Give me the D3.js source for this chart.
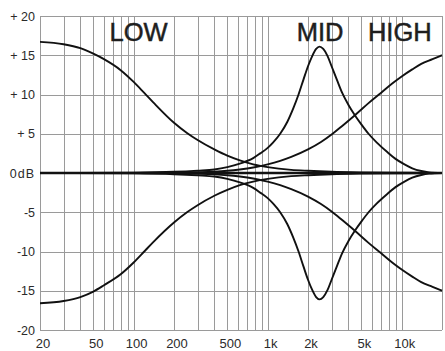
<!DOCTYPE html>
<html>
<head>
<meta charset="utf-8">
<script src="https://cdn.jsdelivr.net/npm/d3@7"></script>
<style>
  html, body { margin: 0; padding: 0; background: #fff; }
  svg { display: block; }
  text { font-family: "Liberation Sans", Arial, sans-serif; }
</style>
</head>
<body>
<svg id="chart" width="445" height="351"></svg>
<script>
// ---- data ----
const lowFreqs  = [20, 30, 40, 50, 60, 80, 100, 120, 140, 200, 250, 300, 400, 500, 620, 780, 1000, 1500, 2000, 3000, 5000, 10000, 20000];
const lowBoost  = [16.7, 16.4, 15.9, 15.2, 14.5, 13.1, 11.6, 10.2, 9.0, 6.4, 5.1, 4.2, 3.0, 2.2, 1.6, 1.1, 0.75, 0.4, 0.28, 0.16, 0.08, 0.03, 0];
const lowCut    = [-16.6, -16.3, -15.8, -15.1, -14.3, -12.9, -11.4, -10.0, -8.8, -6.3, -5.0, -4.1, -2.9, -2.15, -1.55, -1.1, -0.75, -0.4, -0.28, -0.16, -0.08, -0.03, 0];

const midFreqs  = [20, 100, 200, 300, 400, 500, 620, 780, 880, 1000, 1100, 1240, 1400, 1550, 1700, 1850, 2000, 2150, 2300, 2440, 2600, 2800, 3000, 3300, 3600, 4000, 4500, 5000, 5660, 6500, 7770, 9000, 10500, 12000, 14000, 16000, 20000];
const midBoost  = [0, 0.05, 0.15, 0.3, 0.45, 0.75, 1.2, 1.9, 2.5, 3.2, 3.9, 5.0, 6.5, 8.2, 10.0, 11.9, 13.6, 14.9, 15.8, 16.1, 15.8, 14.9, 13.6, 11.8, 10.2, 8.7, 7.3, 6.2, 5.0, 3.9, 2.7, 1.8, 1.1, 0.6, 0.25, 0.08, 0];
const midCut    = [0, -0.05, -0.15, -0.3, -0.45, -0.75, -1.2, -1.9, -2.5, -3.2, -3.9, -5.0, -6.5, -8.2, -10.0, -11.9, -13.6, -14.9, -15.8, -16.1, -15.8, -14.9, -13.6, -11.8, -10.2, -8.7, -7.3, -6.2, -5.0, -3.9, -2.7, -1.8, -1.1, -0.6, -0.25, -0.08, 0];

const highFreqs = [20, 100, 200, 300, 400, 500, 620, 780, 1000, 1240, 1500, 2000, 2500, 3000, 3600, 4500, 5660, 7000, 8500, 10000, 12000, 14000, 17000, 20000];
const highBoost = [0, 0.02, 0.05, 0.1, 0.17, 0.28, 0.45, 0.7, 1.1, 1.55, 2.05, 3.0, 3.95, 4.9, 6.0, 7.4, 8.9, 10.2, 11.4, 12.3, 13.2, 13.9, 14.5, 15.0];
const highCut   = [0, -0.02, -0.05, -0.1, -0.17, -0.28, -0.45, -0.7, -1.1, -1.55, -2.05, -3.0, -3.95, -4.9, -6.0, -7.4, -8.9, -10.2, -11.4, -12.3, -13.2, -13.9, -14.5, -15.0];

const flatFreqs = [20, 20000];
const flat      = [0, 0];

const gridFreqs = [20, 30, 40, 50, 60, 70, 80, 90, 100, 200, 300, 400, 500, 600, 700, 800, 900, 1000, 2000, 3000, 4000, 5000, 6000, 7000, 8000, 9000, 10000, 20000];
const xTickValues = [20, 50, 100, 200, 500, 1000, 2000, 5000, 10000];
const xTickLabels = ["20", "50", "100", "200", "500", "1k", "2k", "5k", "10k"];
const yTickValues = [20, 15, 10, 5, 0, -5, -10, -15, -20];
const yTickLabels = ["+ 20", "+ 15", "+ 10", "+ 5", "0dB", "-5", "-10", "-15", "-20"];
const bandNames = ["LOW", "MID", "HIGH"];
const bandFreqs = [66, 1650, 5600];   // frequency where each band name starts

// ---- chart ----
const svg = d3.select("#chart");
const x = d3.scaleLog().domain([20, 20000]).range([40, 442]);
const y = d3.scaleLinear().domain([-20, 20]).range([330, 16]);

const grid = svg.append("g").attr("stroke", "#9a9a9a").attr("stroke-width", 1);
grid.selectAll("line.v").data(gridFreqs).join("line")
  .attr("class", "v")
  .attr("x1", d => Math.round(x(d)) + 0.5).attr("x2", d => Math.round(x(d)) + 0.5)
  .attr("y1", y(20)).attr("y2", y(-20));
grid.selectAll("line.h").data(yTickValues).join("line")
  .attr("class", "h")
  .attr("x1", x(20)).attr("x2", x(20000))
  .attr("y1", d => Math.round(y(d)) + 0.5).attr("y2", d => Math.round(y(d)) + 0.5);

const series = [
  { f: lowFreqs, v: lowBoost }, { f: lowFreqs, v: lowCut },
  { f: midFreqs, v: midBoost }, { f: midFreqs, v: midCut },
  { f: highFreqs, v: highBoost }, { f: highFreqs, v: highCut }
];

const lineGen = d3.line()
  .x(d => x(d[0]))
  .y(d => y(d[1]))
  .curve(d3.curveMonotoneX);

svg.append("g").selectAll("path").data(series).join("path")
  .attr("d", s => lineGen(s.f.map((f, i) => [f, s.v[i]])))
  .attr("fill", "none")
  .attr("stroke", "#111")
  .attr("stroke-width", 1.9);

svg.append("path")
  .attr("d", lineGen(flatFreqs.map((f, i) => [f, flat[i]])))
  .attr("fill", "none")
  .attr("stroke", "#111")
  .attr("stroke-width", 2.6);

// y labels
svg.append("g").selectAll("text").data(yTickValues).join("text")
  .attr("x", 35)
  .attr("y", d => y(d))
  .attr("dy", "0.36em")
  .attr("text-anchor", "end")
  .attr("font-size", 12.5)
  .attr("fill", "#2a2a2a")
  .attr("letter-spacing", (d, i) => yTickLabels[i] === "0dB" ? 1 : 0)
  .text((d, i) => yTickLabels[i]);

// x labels
svg.append("g").selectAll("text").data(xTickValues).join("text")
  .attr("x", d => x(d) + 3)
  .attr("y", 348)
  .attr("text-anchor", "middle")
  .attr("font-size", 13)
  .attr("fill", "#2a2a2a")
  .text((d, i) => xTickLabels[i]);

// band names
svg.append("g").selectAll("text").data(bandNames).join("text")
  .attr("x", (d, i) => x(bandFreqs[i]))
  .attr("y", 41)
  .attr("font-size", 25.5)
  .attr("fill", "#1e1e1e")
  .attr("stroke", "#1e1e1e")
  .attr("stroke-width", 0.5)
  .text(d => d);
</script>
</body>
</html>
